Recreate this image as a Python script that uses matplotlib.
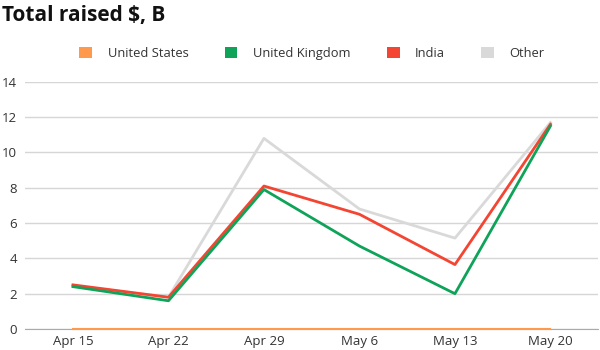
import matplotlib.pyplot as plt
from matplotlib.patches import Patch

plt.rcParams['font.family'] = ['Open Sans', 'DejaVu Sans']

weeks = ['Apr 15', 'Apr 22', 'Apr 29', 'May 6', 'May 13', 'May 20']
us = [0, 0, 0, 0, 0, 0]
uk = [2.4, 1.6, 7.9, 4.7, 2.0, 11.5]
india = [2.5, 1.8, 8.1, 6.5, 3.65, 11.6]
other = [2.45, 1.8, 10.8, 6.8, 5.15, 11.7]

names = ['United States', 'United Kingdom', 'India', 'Other']
colors = ['#ff9a4d', '#0fa35a', '#f44532', '#d9d9d9']

fig = plt.figure(figsize=(6, 3.5), dpi=100)
ax = fig.add_axes([0.042, 0.06, 0.955, 0.706])

x = range(len(weeks))
ax.plot(x, other, color=colors[3], lw=2, zorder=2)
ax.plot(x, india, color=colors[2], lw=2, zorder=3)
ax.plot(x, uk, color=colors[1], lw=2, zorder=4)
ax.plot(x, us, color=colors[0], lw=1.5, zorder=5, clip_on=False)

ax.set_xlim(-0.5, 5.5)
ax.set_ylim(0, 14)
ax.set_yticks(range(0, 15, 2))
ax.set_xticks(list(x))
ax.set_xticklabels(weeks)
ax.grid(axis='y', color='#d6d6d6', lw=1)
ax.set_axisbelow(True)
for s in ['top', 'right', 'left']:
    ax.spines[s].set_visible(False)
ax.spines['bottom'].set_color('#aaaaaa')
ax.tick_params(length=0, labelsize=9.5, colors='#333333', pad=4)
ax.tick_params(axis='y', pad=6)

fig.text(0.003, 0.955, 'Total raised $, B', fontsize=15, fontweight='bold',
         va='center', ha='left', color='#111111')

handles = [Patch(facecolor=c, edgecolor='none') for c in colors]
fig.legend(handles, names, loc='center', bbox_to_anchor=(0.52, 0.848), ncol=4,
           frameon=False, fontsize=9.3, handlelength=1.0, handleheight=1.0,
           columnspacing=2.8, handletextpad=1.2, labelcolor='#333333')

fig.savefig('out.png', dpi=100)
